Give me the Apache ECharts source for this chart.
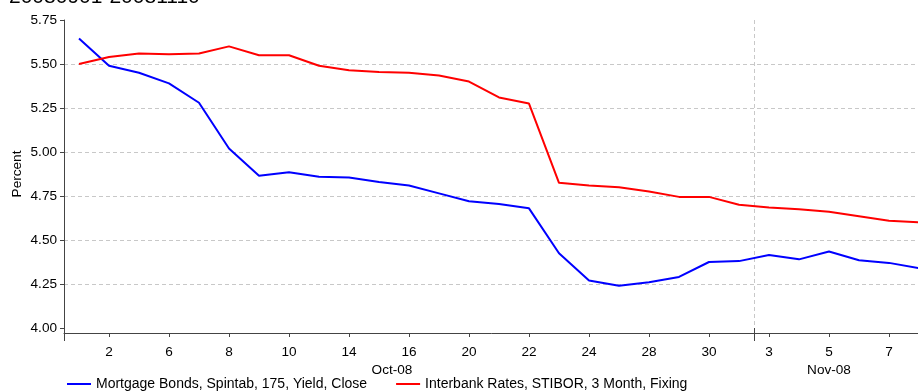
<!DOCTYPE html>
<html>
<head>
<meta charset="utf-8">
<script src="https://cdn.jsdelivr.net/npm/echarts@6/dist/echarts.min.js"></script>
<style>
	html, body { margin: 0; padding: 0; background: #fff; }
	#chart { width: 918px; height: 392px; }
</style>
</head>
<body>
<div id="chart"></div>
<script>
	// trading days, 1 Oct 2008 .. 10 Nov 2008
	var days = ['1', '2', '3', '6', '7', '8', '9', '10', '13', '14', '15', '16', '17', '20', '21', '22', '23', '24', '27', '28', '29', '30', '31',
		'3', '4', '5', '6', '7', '10'];
	var monthLabels = { 11: '{oct|Oct-08}', 25: 'Nov-08' };
	var monthBreak = 23; // first day of Nov
	var mortgage = [5.645, 5.49, 5.45, 5.39, 5.28, 5.02, 4.865, 4.885, 4.86, 4.855, 4.83, 4.81, 4.765, 4.72, 4.705, 4.68,
		4.425, 4.27, 4.24, 4.26, 4.29, 4.375, 4.38, 4.415, 4.39, 4.435, 4.385, 4.37, 4.34];
	var stibor = [5.50, 5.54, 5.56, 5.555, 5.56, 5.60, 5.55, 5.55, 5.49, 5.465, 5.455, 5.45, 5.435, 5.40, 5.31, 5.275,
		4.825, 4.81, 4.80, 4.775, 4.745, 4.745, 4.70, 4.685, 4.675, 4.66, 4.635, 4.61, 4.60];
	var seriesNames = ['Mortgage Bonds, Spintab, 175, Yield, Close', 'Interbank Rates, STIBOR, 3 Month, Fixing'];

	var font = 'Liberation Sans, Arial, sans-serif';
	var fontSize = 13.6;
	var axisColor = '#444';
	var gridColor = '#c8c8c8';

	var option = {
		backgroundColor: '#fff',
		animation: false,
		title: {
			text: '20080901-20081110',
			left: 4,
			top: -18,
			textStyle: { fontFamily: font, fontSize: 21, fontWeight: 'normal', color: '#000' }
		},
		grid: {
			left: 64,
			top: 20,
			width: 870,
			height: 308,
			outerBoundsMode: 'none',
			containLabel: false
		},
		legend: {
			left: 62,
			top: 372,
			icon: 'rect',
			itemWidth: 24,
			itemHeight: 2,
			itemGap: 29,
			textStyle: { fontFamily: font, fontSize: 14, color: '#000' },
			data: seriesNames
		},
		xAxis: [{
			type: 'category',
			data: days,
			boundaryGap: true,
			offset: 5,
			axisLine: { show: true, onZero: false, lineStyle: { color: axisColor, width: 1 } },
			axisTick: {
				show: true,
				alignWithLabel: true,
				length: 4,
				interval: function (i) { return i % 2 === 1; },
				lineStyle: { color: axisColor }
			},
			axisLabel: {
				interval: function (i) { return i % 2 === 1; },
				margin: 12,
				fontFamily: font,
				fontSize: fontSize,
				color: '#000'
			},
			splitLine: { show: false }
		}, {
			// second label row: month names
			type: 'category',
			data: days,
			boundaryGap: true,
			position: 'bottom',
			offset: 0,
			axisLine: { show: false, onZero: false },
			axisTick: { show: false },
			axisLabel: {
				interval: function (i) { return monthLabels[i] !== undefined; },
				formatter: function (v, i) { return monthLabels[i] || ''; },
				margin: 35,
				fontFamily: font,
				fontSize: fontSize,
				color: '#000',
				rich: {
					oct: { fontFamily: font, fontSize: fontSize, color: '#000', padding: [0, 34, 0, 0] }
				}
			},
			splitLine: { show: false }
		}, {
			// month separator on the boundary between Oct 31 and Nov 3
			type: 'value',
			min: -0.5,
			max: days.length - 0.5,
			interval: monthBreak,
			position: 'bottom',
			offset: 0,
			axisLine: { show: false, onZero: false },
			axisLabel: { show: false },
			axisTick: { show: true, length: 13, lineStyle: { color: axisColor } },
			splitLine: {
				show: true,
				showMinLine: false,
				showMaxLine: false,
				lineStyle: { color: gridColor, type: [4, 3], width: 1 }
			}
		}],
		yAxis: {
			type: 'value',
			min: 4,
			max: 5.75,
			interval: 0.25,
			name: 'Percent',
			nameLocation: 'middle',
			nameGap: 40,
			nameMoveOverlap: false,
			nameTextStyle: { fontFamily: font, fontSize: fontSize, color: '#000' },
			axisLine: { show: true, onZero: false, lineStyle: { color: axisColor, width: 1 } },
			axisTick: { show: true, length: 4, lineStyle: { color: axisColor } },
			axisLabel: {
				formatter: function (v) { return v.toFixed(2); },
				margin: 7,
				fontFamily: font,
				fontSize: fontSize,
				color: '#000'
			},
			splitLine: {
				show: true,
				showMinLine: false,
				showMaxLine: false,
				lineStyle: { color: gridColor, type: [4, 3], width: 1 }
			}
		},
		series: [{
			name: seriesNames[0],
			type: 'line',
			data: mortgage,
			symbol: 'none',
			itemStyle: { color: '#0000ff' },
			lineStyle: { color: '#0000ff', width: 2 }
		}, {
			name: seriesNames[1],
			type: 'line',
			data: stibor,
			symbol: 'none',
			itemStyle: { color: '#ff0000' },
			lineStyle: { color: '#ff0000', width: 2 }
		}]
	};

	var myChart = echarts.init(document.getElementById('chart'));
	myChart.setOption(option);
</script>
</body>
</html>
